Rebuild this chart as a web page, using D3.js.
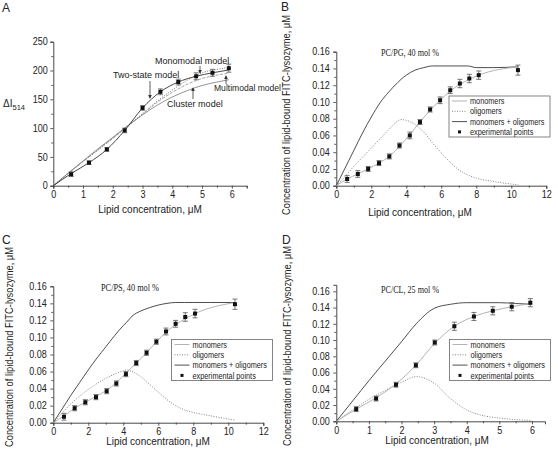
<!DOCTYPE html>
<html><head><meta charset="utf-8">
<script src="https://cdn.jsdelivr.net/npm/d3@7"></script>
<style>
body{margin:0;background:#fff;}
</style></head><body>
<svg id="chart" width="558" height="456" font-family="'Liberation Sans',Arial,sans-serif"></svg>
<script>
// ---------- Panel A ----------
const aExpX = [0.6,1.2,1.8,2.4,3.0,3.6,4.2,4.8,5.35,5.9];
const aExpY = [20,40,63,96,135,163,180,190,196,204];
const aExpErr = [4,3,3,4,4,5,5,6,6,7];
const aTwoStateX = [0,0.6,1.2,1.8,2.4,3.0,3.6,4.2,4.8,5.35,5.9];
const aTwoStateY = [0,21,40,63,96,135,163,180,190,196,201];
const aModelX = [0,0.5,1,1.5,2,2.5,3,3.5,4,4.5,5,5.5,5.9];
const aMonomodalY = [0,21,42,62,83,104,125,147,166,183,196,202,205];
const aMultimodalY = [0,21,42,62,82,103,124,145,162,176,186,192,195];
const aClusterY = [0,22,43,64,84,104,123,140,154,165,174,180,184];
const aXTicks = [0,1,2,3,4,5,6];
const aYTicks = [0,50,100,150,200,250];

// ---------- Panel B (PC/PG, 40 mol %) ----------
const bExpX = [0.62,1.23,1.82,2.44,3.03,3.61,4.2,4.78,5.36,5.93,6.51,7.06,7.6,8.14,10.38];
const bExpY = [0.008,0.014,0.020,0.027,0.035,0.048,0.060,0.076,0.091,0.102,0.114,0.122,0.128,0.132,0.138];
const bExpErr = [0.004,0.004,0.003,0.003,0.003,0.003,0.004,0.003,0.003,0.004,0.004,0.005,0.005,0.005,0.006];
const bMonoX = [0,0.62,1.23,1.82,2.44,3.03,3.61,4.2,4.78,5.36,5.93,6.51,7.06,7.6,8.14,10.38];
const bMonoY = [0,0.008,0.014,0.020,0.027,0.035,0.047,0.061,0.076,0.090,0.102,0.113,0.121,0.127,0.132,0.142];
const bCurveX = [0,0.5,1,1.5,2,2.5,3,3.5,3.7,4,4.5,5,5.5,6,6.5,7,7.5,8,9,10.4];
const bTotalY = [0,0.021,0.042,0.063,0.082,0.099,0.112,0.123,0.127,0.132,0.138,0.141,0.143,0.143,0.143,0.143,0.143,0.141,0.141,0.142];
const bOligoY = [0,0.011,0.023,0.034,0.045,0.056,0.067,0.077,0.079,0.078,0.073,0.064,0.051,0.039,0.028,0.019,0.013,0.009,0.005,0.001];

// ---------- Panel C (PC/PS, 40 mol %) ----------
const cExpX = [0.61,1.22,1.83,2.44,3.05,3.6,4.15,4.74,5.33,5.89,6.44,6.99,7.54,8.1,10.38];
const cExpY = [0.007,0.017,0.024,0.030,0.037,0.046,0.057,0.070,0.082,0.095,0.107,0.116,0.124,0.128,0.139];
const cExpErr = [0.004,0.003,0.003,0.003,0.003,0.003,0.003,0.003,0.003,0.003,0.004,0.004,0.005,0.005,0.006];
const cMonoX = [0,0.61,1.22,1.83,2.44,3.05,3.6,4.15,4.74,5.33,5.89,6.44,6.99,7.54,8.1,10.38];
const cMonoY = [0,0.008,0.017,0.024,0.031,0.038,0.047,0.058,0.070,0.082,0.095,0.106,0.115,0.122,0.128,0.141];
const cCurveX = [0,0.5,1,1.5,2,2.5,3,3.5,4,4.2,4.5,5,5.5,6,6.5,7,7.5,8,9,10.4];
const cTotalY = [0,0.016,0.032,0.047,0.062,0.076,0.089,0.102,0.114,0.118,0.125,0.131,0.135,0.138,0.140,0.141,0.141,0.141,0.141,0.141];
const cOligoY = [0,0.011,0.022,0.031,0.039,0.046,0.052,0.057,0.061,0.062,0.060,0.054,0.045,0.036,0.027,0.020,0.015,0.012,0.008,0.003];

// ---------- Panel D (PC/CL, 25 mol %) ----------
const dExpX = [0.61,1.22,1.83,2.44,3.02,3.62,4.22,4.8,5.38,5.95];
const dExpY = [0.015,0.028,0.045,0.069,0.097,0.117,0.129,0.136,0.141,0.146];
const dExpErr = [0.003,0.003,0.003,0.003,0.003,0.005,0.005,0.005,0.005,0.005];
const dMonoX = [0,0.61,1.22,1.83,2.44,3.02,3.62,4.22,4.8,5.38,5.95];
const dMonoY = [0,0.015,0.029,0.046,0.069,0.096,0.117,0.129,0.136,0.141,0.145];
const dCurveX = [0,0.5,1,1.5,2,2.45,3,3.5,4,4.5,5,5.5,6];
const dTotalY = [0,0.025,0.050,0.074,0.098,0.120,0.139,0.144,0.146,0.146,0.146,0.145,0.144];
const dOligoY = [0,0.014,0.027,0.038,0.048,0.055,0.047,0.028,0.014,0.007,0.004,0.002,0.001];

const concTicks = [0,0.02,0.04,0.06,0.08,0.10,0.12,0.14,0.16];
const legendLabels = ["monomers","oligomers","monomers + oligomers","experimental points"];
const yTitle = "Concentration of lipid-bound FITC-lysozyme, \u03BCM";
const xTitle = "Lipid concentration, \u03BCM";

const svg = d3.select("#chart");
const AX = "#333";
const SANS = "'Liberation Sans',Arial,sans-serif";

function zip(xs, ys){ return xs.map((v,i)=>[v, ys[i]]); }

function squeeze(sel, f){
  sel.each(function(){
    const L = this.getComputedTextLength();
    d3.select(this).attr("textLength", L*f).attr("lengthAdjust","spacingAndGlyphs");
  });
}

function axes(g, x, y, xt, xm, yt, ym, yfmt, ypad){
  const y0 = y.range()[0], x0 = x.range()[0];
  g.append("g").attr("transform",`translate(0,${y0})`)
    .call(d3.axisBottom(x).tickValues(xt).tickSize(3).tickPadding(2.2).tickFormat(d3.format("d")));
  g.append("g").attr("transform",`translate(0,${y0})`)
    .call(d3.axisBottom(x).tickValues(xm).tickSize(2).tickFormat(""))
    .select(".domain").remove();
  g.append("g").attr("transform",`translate(${x0},0)`)
    .call(d3.axisLeft(y).tickValues(yt).tickSize(3).tickPadding(ypad).tickFormat(yfmt));
  g.append("g").attr("transform",`translate(${x0},0)`)
    .call(d3.axisLeft(y).tickValues(ym).tickSize(2).tickFormat(""))
    .select(".domain").remove();
  g.selectAll(".domain").attr("stroke",AX).attr("stroke-width",0.9);
  g.selectAll(".tick line").attr("stroke",AX).attr("stroke-width",0.8);
  const tt = g.selectAll(".tick text").attr("font-size",10).attr("fill","#222").attr("font-family",SANS);
  squeeze(tt, 0.9);
}

function curve(g, x, y, pts, stroke, width, dash){
  const line = d3.line().x(d=>x(d[0])).y(d=>y(d[1])).curve(d3.curveMonotoneX);
  g.append("path").datum(pts).attr("d",line).attr("fill","none")
    .attr("stroke",stroke).attr("stroke-width",width)
    .attr("stroke-dasharray",dash||null);
}

function expPoints(g, x, y, xs, ys, es, capW){
  const pts = xs.map((v,i)=>({x:v,y:ys[i],e:es[i]}));
  const eb = g.append("g").attr("stroke","#555").attr("stroke-width",0.8);
  pts.forEach(d=>{
    const cx = x(d.x), yt = y(d.y+d.e), yb = y(d.y-d.e);
    eb.append("line").attr("x1",cx).attr("x2",cx).attr("y1",yt).attr("y2",yb);
    eb.append("line").attr("x1",cx-capW).attr("x2",cx+capW).attr("y1",yt).attr("y2",yt);
    eb.append("line").attr("x1",cx-capW).attr("x2",cx+capW).attr("y1",yb).attr("y2",yb);
  });
  g.append("g").selectAll("rect").data(pts).join("rect")
    .attr("x",d=>x(d.x)-2).attr("y",d=>y(d.y)-2).attr("width",4).attr("height",4)
    .attr("fill","#111");
}

function panelLetter(txt, px, py){
  svg.append("text").attr("x",px).attr("y",py).attr("font-size",12).attr("fill","#222").text(txt);
}

// ---------- draw A ----------
(function(){
  const g = svg.append("g");
  const x = d3.scaleLinear().domain([0,6.5]).range([53.3,246.7]);
  const y = d3.scaleLinear().domain([0,250]).range([185.7,41.7]);
  axes(g, x, y, aXTicks, d3.range(0.5,6.6,1), aYTicks, d3.range(25,250,50), d3.format("d"), 2.5);
  curve(g, x, y, zip(aModelX,aClusterY), "#888", 0.9);
  curve(g, x, y, zip(aModelX,aMultimodalY), "#999", 0.9, "3,1.5");
  curve(g, x, y, zip(aModelX,aMonomodalY), "#666", 0.9, "1,1.5");
  curve(g, x, y, zip(aTwoStateX,aTwoStateY), "#333", 0.9);
  expPoints(g, x, y, aExpX, aExpY, aExpErr, 2.5);
  const defs = svg.append("defs");
  defs.append("marker").attr("id","arr").attr("viewBox","0 0 6 6").attr("refX",5).attr("refY",3)
    .attr("markerWidth",5).attr("markerHeight",5).attr("orient","auto")
    .append("path").attr("d","M0,0L6,3L0,6Z").attr("fill","#333");
  const ann = [
    {t:"Monomodal model", tx:155, ty:64, x1:200, y1:66, x2:200, y2:73, f:0.95},
    {t:"Two-state model", tx:113, ty:78, x1:150, y1:81, x2:150, y2:98, f:0.95},
    {t:"Multimodal model", tx:214, ty:91, x1:226, y1:84, x2:226, y2:76, f:0.9},
    {t:"Cluster model", tx:167, ty:107, x1:193, y1:99, x2:193, y2:88, f:0.95}
  ];
  ann.forEach(a=>{
    const t = g.append("text").attr("x",a.tx).attr("y",a.ty).attr("font-size",9.5).attr("fill","#222").text(a.t);
    squeeze(t, a.f);
    g.append("line").attr("x1",a.x1).attr("y1",a.y1).attr("x2",a.x2).attr("y2",a.y2)
      .attr("stroke","#333").attr("stroke-width",0.8).attr("marker-end","url(#arr)");
  });
  g.append("text").attr("x",150).attr("y",213).attr("text-anchor","middle").attr("font-size",10).attr("fill","#222").text(xTitle);
  const yl = g.append("text").attr("x",3).attr("y",107).attr("font-size",10).attr("fill","#222");
  yl.append("tspan").text("\u0394I");
  yl.append("tspan").attr("dy",3).attr("font-size",7.5).text("514");
  panelLetter("A", 2, 12);
})();

function concPanel(cfg){
  const g = svg.append("g");
  const x = d3.scaleLinear().domain(cfg.xDomain).range(cfg.xRange);
  const y = d3.scaleLinear().domain(cfg.yDomain).range(cfg.yRange);
  axes(g, x, y, cfg.xTicks, cfg.xMinor, concTicks, d3.range(0.01,0.16,0.02), d3.format(".2f"), 3.5);
  curve(g, x, y, zip(cfg.curveX,cfg.total), "#3a3a3a", 0.9);
  curve(g, x, y, zip(cfg.curveX,cfg.oligo), "#777", 0.9, "1,1.5");
  curve(g, x, y, zip(cfg.monoX,cfg.mono), "#aaa", 0.9);
  expPoints(g, x, y, cfg.expX, cfg.expY, cfg.expErr, 2.5);
  g.append("text").attr("x",cfg.titleX).attr("y",cfg.titleY).attr("fill","#222")
    .attr("font-family","'Liberation Serif','Times New Roman',serif").attr("font-size",10.5)
    .attr("textLength",58).attr("lengthAdjust","spacingAndGlyphs").text(cfg.title);
  g.append("text").attr("x",cfg.xLabX).attr("y",cfg.xLabY).attr("text-anchor","middle").attr("font-size",10).attr("fill","#222").text(xTitle);
  g.append("text").attr("transform",`translate(${cfg.yLabX},${cfg.yLabY}) rotate(-90)`)
    .attr("text-anchor","middle").attr("font-size",10).attr("fill","#222")
    .attr("textLength",200).attr("lengthAdjust","spacingAndGlyphs").text(yTitle);
  // legend
  const L = cfg.legend;
  const lg = g.append("g").attr("transform",`translate(${L[0]},${L[1]})`);
  lg.append("rect").attr("width",101).attr("height",41).attr("fill","#fff").attr("stroke","#666").attr("stroke-width",0.8);
  const styles = [{s:"#aaa",d:null},{s:"#777",d:"1,1.5"},{s:"#3a3a3a",d:null}];
  legendLabels.forEach((lab,i)=>{
    const yy = 5 + i*10.3;
    if(i<3){
      lg.append("line").attr("x1",3).attr("x2",18).attr("y1",yy).attr("y2",yy)
        .attr("stroke",styles[i].s).attr("stroke-width",0.9).attr("stroke-dasharray",styles[i].d);
    } else {
      lg.append("rect").attr("x",9).attr("y",yy-1.5).attr("width",3).attr("height",3).attr("fill","#111");
    }
    const t = lg.append("text").attr("x",21).attr("y",yy+3.1).attr("font-size",8.7).attr("fill","#222").text(lab);
    squeeze(t, 0.84);
  });
  panelLetter(cfg.letter, cfg.letterX, cfg.letterY);
}

concPanel({letter:"B", letterX:281, letterY:11, xDomain:[0,12], xRange:[336.3,546.3], yDomain:[0,0.16], yRange:[185.7,51.7],
  xTicks:[0,2,4,6,8,10,12], xMinor:d3.range(1,12,2), curveX:bCurveX, total:bTotalY, oligo:bOligoY, monoX:bMonoX, mono:bMonoY,
  expX:bExpX, expY:bExpY, expErr:bExpErr, title:"PC/PG, 40 mol %", titleX:381, titleY:56,
  xLabX:420, xLabY:216, yLabX:290, yLabY:115, legend:[449,96]});

concPanel({letter:"C", letterX:2, letterY:244, xDomain:[0,12], xRange:[53.3,263.3], yDomain:[0,0.16], yRange:[422.7,286.3],
  xTicks:[0,2,4,6,8,10,12], xMinor:d3.range(1,12,2), curveX:cCurveX, total:cTotalY, oligo:cOligoY, monoX:cMonoX, mono:cMonoY,
  expX:cExpX, expY:cExpY, expErr:cExpErr, title:"PC/PS, 40 mol %", titleX:101, titleY:291,
  xLabX:158, xLabY:445, yLabX:13, yLabY:347, legend:[171.5,339.5]});

concPanel({letter:"D", letterX:282, letterY:244, xDomain:[0,6.4], xRange:[336.3,545], yDomain:[0,0.168], yRange:[421.3,284.8],
  xTicks:[0,1,2,3,4,5,6], xMinor:d3.range(0.5,6.4,1), curveX:dCurveX, total:dTotalY, oligo:dOligoY, monoX:dMonoX, mono:dMonoY,
  expX:dExpX, expY:dExpY, expErr:dExpErr, title:"PC/CL, 25 mol %", titleX:381, titleY:293,
  xLabX:437, xLabY:443.5, yLabX:291, yLabY:346, legend:[449.5,339.5]});
</script>
</body></html>
